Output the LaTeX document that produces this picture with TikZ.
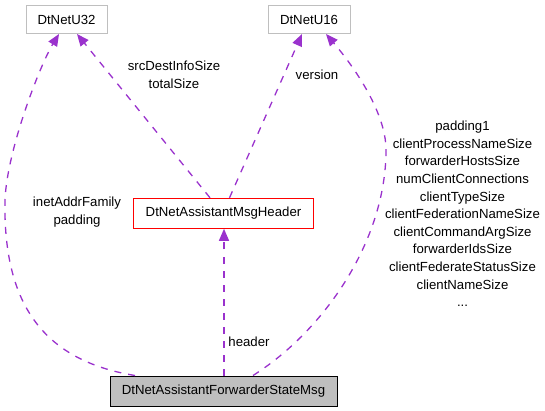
\documentclass[tikz,border=0pt]{standalone}
\usepackage{fontspec}
\setmainfont{Liberation Sans}
\usepackage{tikz}
\usetikzlibrary{arrows.meta}
\definecolor{edgecol}{HTML}{9A32CD}
\definecolor{boxgray}{HTML}{BFBFBF}

\begin{document}
\begin{tikzpicture}[x=1pt,y=-1pt,font=\fontsize{13.2}{17.6}\selectfont,
  box/.style={draw=boxgray,line width=1pt,minimum height=28pt,inner sep=0pt},
  link/.style={draw=edgecol,line width=1.3pt,dash pattern=on 7pt off 7pt,-{Triangle[length=12pt,width=10pt]}},
  lbl/.style={align=center,inner sep=0pt}]
\useasboundingbox (0,0) rectangle (545,411);
\node[box,minimum width=81pt] (U32) at (66.5,19.5) {DtNetU32};
\node[box,minimum width=82pt] (U16) at (309,19.5) {DtNetU16};
\node[box,draw=red,minimum width=180pt,minimum height=30pt] (H) at (223.5,213.3) {DtNetAssistantMsgHeader};
\node[box,draw=black,fill=boxgray,minimum width=227pt,minimum height=30pt] (M) at (223.5,391) {DtNetAssistantForwarderStateMsg};
\node[lbl] (L1) at (77,212) {inetAddrFamily\\padding};
\node[lbl] (L2) at (174,75) {srcDestInfoSize\\totalSize};
\node[lbl] (L3) at (317,75) {version};
\node[lbl] (L4) at (249,342) {header};
\node[lbl] (L5) at (462.5,214) {padding1\\clientProcessNameSize\\forwarderHostsSize\\numClientConnections\\clientTypeSize\\clientFederationNameSize\\clientCommandArgSize\\forwarderIdsSize\\clientFederateStatusSize\\clientNameSize\\...};
\draw[link] ([xshift=-88.5pt]M.north) .. controls (40,360) and (3,300) .. (5,200) .. controls (7,150) and (40,65) .. ([xshift=-7.5pt]U32.south);
\draw[link] ([xshift=-13.5pt]H.north) -- ([xshift=10.5pt]U32.south);
\draw[link] ([xshift=6pt]H.north) -- ([xshift=-7pt]U16.south);
\draw[link] ([xshift=29.5pt]M.north) .. controls (325,330) and (386,240) .. (386,150) .. controls (386,110) and (350,62) .. ([xshift=17pt]U16.south);
\draw[link] ([xshift=0.5pt]M.north) -- ([xshift=0.5pt]H.south);
\end{tikzpicture}
\end{document}
